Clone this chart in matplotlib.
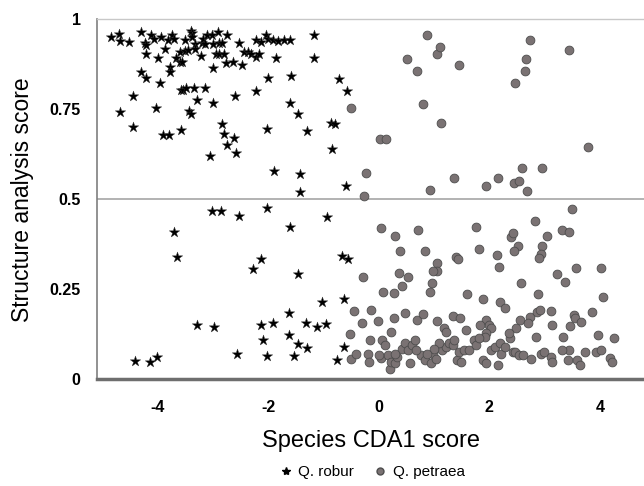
import matplotlib
matplotlib.use("Agg")
import matplotlib.pyplot as plt
from matplotlib.lines import Line2D

plt.rcParams['font.family'] = ['Liberation Sans', 'DejaVu Sans']

# Q. robur (stars)
robur_x = [-4.84, -4.69, -4.67, -4.51, -4.30, -4.23, -4.20, -4.12, -4.06, -3.93,
           -3.86, -3.81, -3.73, -3.71, -3.51, -3.40, -3.38, -3.37, -3.32, -3.20,
           -3.17, -3.11, -3.02, -2.99, -2.91, -2.89, -2.83, -2.74, -2.52, -2.43,
           -2.36, -2.30, -2.22, -2.21, -2.17, -2.12, -2.04, -2.00, -1.91, -1.82,
           -1.72, -1.61, -1.17, -1.17,
           -4.21, -4.00, -3.77, -3.60, -3.66, -3.60, -3.56, -3.51, -3.45, -3.33,
           -3.21, -3.14, -2.99, -2.95, -2.88, -2.80, -2.76, -2.64, -2.47, -1.85,
           -4.29, -4.21, -3.95, -3.77, -4.44, -4.03, -4.67, -4.45, -3.90, -3.79,
           -3.58, -3.58, -3.54, -3.48, -3.34, -3.14, -3.29, -2.99, -3.43, -3.40,
           -2.83, -2.79, -2.74, -2.61, -2.58, -3.05, -2.59, -2.21, -2.00, -2.02,
           -1.89, -1.61, -1.58, -1.46, -1.30, -1.43, -1.43, -0.85, -0.87, -0.79,
           -0.71, -0.57, -0.59,
           -3.71, -3.65, -3.01, -2.86, -2.52, -2.02, -1.61, -0.93, -2.13, -2.27,
           -1.46, -0.66, -0.55, -3.28, -2.97, -2.12, -1.91, -2.10, -1.63, -1.63,
           -1.32, -1.11, -0.96, -1.03, -0.62, -1.46, -1.29, -4.41, -4.14, -4.01,
           -2.56, -2.02, -1.54, -0.75, -0.62]
robur_y = [0.952, 0.959, 0.939, 0.936, 0.966, 0.935, 0.929, 0.958, 0.946, 0.952,
           0.918, 0.942, 0.957, 0.946, 0.943, 0.968, 0.961, 0.950, 0.933, 0.935,
           0.947, 0.958, 0.958, 0.933, 0.965, 0.935, 0.935, 0.957, 0.935, 0.910,
           0.910, 0.905, 0.943, 0.896, 0.903, 0.936, 0.956, 0.946, 0.944, 0.941,
           0.943, 0.943, 0.956, 0.894,
           0.905, 0.892, 0.868, 0.910, 0.892, 0.882, 0.882, 0.913, 0.915, 0.917,
           0.898, 0.933, 0.866, 0.905, 0.905, 0.905, 0.880, 0.881, 0.873, 0.893,
           0.854, 0.836, 0.824, 0.854, 0.787, 0.755, 0.743, 0.702, 0.680, 0.678,
           0.692, 0.805, 0.804, 0.808, 0.810, 0.810, 0.776, 0.769, 0.746, 0.736,
           0.709, 0.681, 0.651, 0.669, 0.629, 0.619, 0.788, 0.802, 0.836, 0.695,
           0.579, 0.768, 0.842, 0.737, 0.690, 0.570, 0.520, 0.640, 0.713, 0.709,
           0.835, 0.802, 0.538,
           0.410, 0.340, 0.468, 0.468, 0.454, 0.476, 0.422, 0.451, 0.333, 0.305,
           0.291, 0.342, 0.335, 0.150, 0.144, 0.150, 0.157, 0.110, 0.184, 0.122,
           0.155, 0.146, 0.153, 0.213, 0.222, 0.097, 0.086, 0.050, 0.048, 0.062,
           0.070, 0.064, 0.064, 0.053, 0.090]

# Q. petraea (circles)
petraea_x = [0.88, 1.05, 1.11, 1.45, 0.51, 0.69, 0.80, 1.12, -0.50, 0.02,
             0.13, -0.22, -0.26, 0.93, 1.36, 1.95, 2.16, 2.44, 2.53, 2.59,
             2.68, 2.96, 2.47, 2.64, 2.67, 2.73, 3.45, 3.78,
             3.50, 2.82, 3.32, 3.44, 3.04, 1.77, 2.40, 2.43, 2.52, 2.44,
             1.81, 2.14, 2.18, 2.96, 2.93, 2.90, 3.57, 4.03, 0.04, 0.30,
             0.38, 0.71, 0.84, 1.05, 1.06, 0.99, 0.96, 0.93, 1.40, 1.43,
             0.36, 0.53, 0.43, 0.28, 0.08, -0.29, 2.58, 3.22, 3.37, 2.89,
             1.60, 1.89, 2.19, 2.29, 4.05, -0.45, -0.14, -0.30, -0.01, 0.23,
             0.28, 0.47, 0.69, 0.80, 1.05, 1.34, 1.47, 1.18, 1.21, 1.95,
             1.99, 2.03, 1.95, 1.84, 1.92, 2.49, 2.55, 2.73, 2.71, 2.86,
             2.92, 3.11, 3.13, 3.33, 3.53, 3.56, 3.47, 3.66, 3.86, 3.97,
             4.26, 3.45, 3.74, 3.93, 4.03, 4.18, 4.23, -0.51, -0.50, -0.41,
             -0.19, -0.17, -0.16, 0.04, 0.06, 0.11, 0.17, 0.20, 0.23, 0.30,
             0.33, 0.43, 0.47, 0.53, 0.60, 0.57, 0.65, 0.77, 0.84, 0.94,
             0.99, 1.03, 1.14, 1.21, 1.27, 1.34, 1.36, 1.42, 1.45, 1.49,
             1.55, 1.64, 1.73, 1.77, 1.88, 1.95, 2.03, 2.10, 2.16, 2.19,
             2.21, 2.38, 2.43, 2.47, 2.53, 2.62, 2.76, 2.85, 2.93, 2.99,
             3.11, 3.14, 3.31, 3.42, 3.59, 3.65, 2.29, 2.36, 1.81, 1.58,
             1.10, 1.00, 0.88, 0.68, 0.30, 0.01]
petraea_y = [0.958, 0.904, 0.922, 0.872, 0.891, 0.857, 0.765, 0.713, 0.755, 0.667,
             0.667, 0.572, 0.510, 0.525, 0.560, 0.538, 0.560, 0.544, 0.551, 0.588,
             0.524, 0.586, 0.823, 0.856, 0.889, 0.944, 0.915, 0.646,
             0.473, 0.440, 0.414, 0.408, 0.399, 0.424, 0.396, 0.405, 0.371, 0.357,
             0.362, 0.346, 0.312, 0.371, 0.349, 0.337, 0.310, 0.310, 0.419, 0.399,
             0.357, 0.414, 0.356, 0.323, 0.301, 0.301, 0.268, 0.241, 0.340, 0.335,
             0.296, 0.285, 0.259, 0.238, 0.241, 0.285, 0.267, 0.291, 0.270, 0.236,
             0.236, 0.222, 0.215, 0.199, 0.227, 0.188, 0.192, 0.155, 0.162, 0.132,
             0.169, 0.184, 0.164, 0.181, 0.162, 0.175, 0.169, 0.141, 0.132, 0.164,
             0.150, 0.141, 0.127, 0.150, 0.118, 0.141, 0.164, 0.173, 0.157, 0.187,
             0.192, 0.190, 0.150, 0.118, 0.178, 0.169, 0.147, 0.159, 0.187, 0.123,
             0.113, 0.081, 0.076, 0.076, 0.081, 0.059, 0.048, 0.125, 0.057, 0.071,
             0.071, 0.048, 0.110, 0.059, 0.108, 0.095, 0.067, 0.027, 0.048, 0.044,
             0.062, 0.085, 0.101, 0.082, 0.095, 0.044, 0.108, 0.067, 0.053, 0.044,
             0.071, 0.057, 0.081, 0.090, 0.099, 0.095, 0.110, 0.053, 0.076, 0.048,
             0.081, 0.081, 0.108, 0.095, 0.053, 0.044, 0.081, 0.090, 0.039, 0.099,
             0.071, 0.113, 0.076, 0.076, 0.067, 0.067, 0.055, 0.118, 0.071, 0.076,
             0.062, 0.048, 0.081, 0.053, 0.053, 0.039, 0.090, 0.127, 0.113, 0.136,
             0.099, 0.085, 0.071, 0.081, 0.071, 0.067]

x_ticks = [-4, -2, 0, 2, 4]
y_ticks = [0, 0.25, 0.5, 0.75, 1]
y_ticklabels = ['0', '0.25', '0.5', '0.75', '1']

fig = plt.figure(figsize=(6.44, 4.86), dpi=100)
ax = fig.add_axes([0.151, 0.220, 0.849, 0.740])

# horizontal line at the 0.5 threshold
ax.axhline(0.5, color='#a6a6a6', lw=1.2, zorder=1)
ax.scatter(petraea_x, petraea_y, marker='o', s=40, color='#7a7273',
           edgecolors='#4d4d4d', linewidths=0.6, zorder=3)
ax.scatter(robur_x, robur_y, marker='*', s=62, color='black',
           edgecolors='#333333', linewidths=0.3, zorder=4)

ax.set_xlim(-5.09, 4.80)
ax.set_ylim(0, 1)
ax.set_xticks(x_ticks)
ax.set_xticklabels([str(t) for t in x_ticks])
ax.set_yticks(y_ticks)
ax.set_yticklabels(y_ticklabels)
ax.tick_params(axis='x', length=0, labelsize=11.5, pad=15)
ax.tick_params(axis='y', length=0, labelsize=11.5, pad=12)
for lab in ax.get_xticklabels() + ax.get_yticklabels():
    lab.set_fontweight('bold')

ax.spines['right'].set_visible(False)
ax.spines['top'].set_color('#c8c8c8')
ax.spines['top'].set_linewidth(1.0)
ax.spines['left'].set_color('#7f7f7f')
ax.spines['left'].set_linewidth(1.2)
ax.spines['bottom'].set_color('#6e6e6e')
ax.spines['bottom'].set_linewidth(2.5)

ax.set_xlabel('Species CDA1 score', fontsize=17, labelpad=11)
ax.set_ylabel('Structure analysis score', fontsize=16.5, labelpad=11)

handles = [
    Line2D([], [], marker='*', ls='', color='black', markersize=6, label='Q. robur'),
    Line2D([], [], marker='o', ls='', color='#7a7273', markeredgecolor='#4d4d4d',
           markersize=5, label='Q. petraea'),
]
fig.legend(handles=handles, loc='center', bbox_to_anchor=(0.577, 0.028), ncol=2,
           frameon=False, fontsize=11, handletextpad=0.3, columnspacing=1.2,
           handlelength=1.0)

fig.savefig('out.png', dpi=100)
